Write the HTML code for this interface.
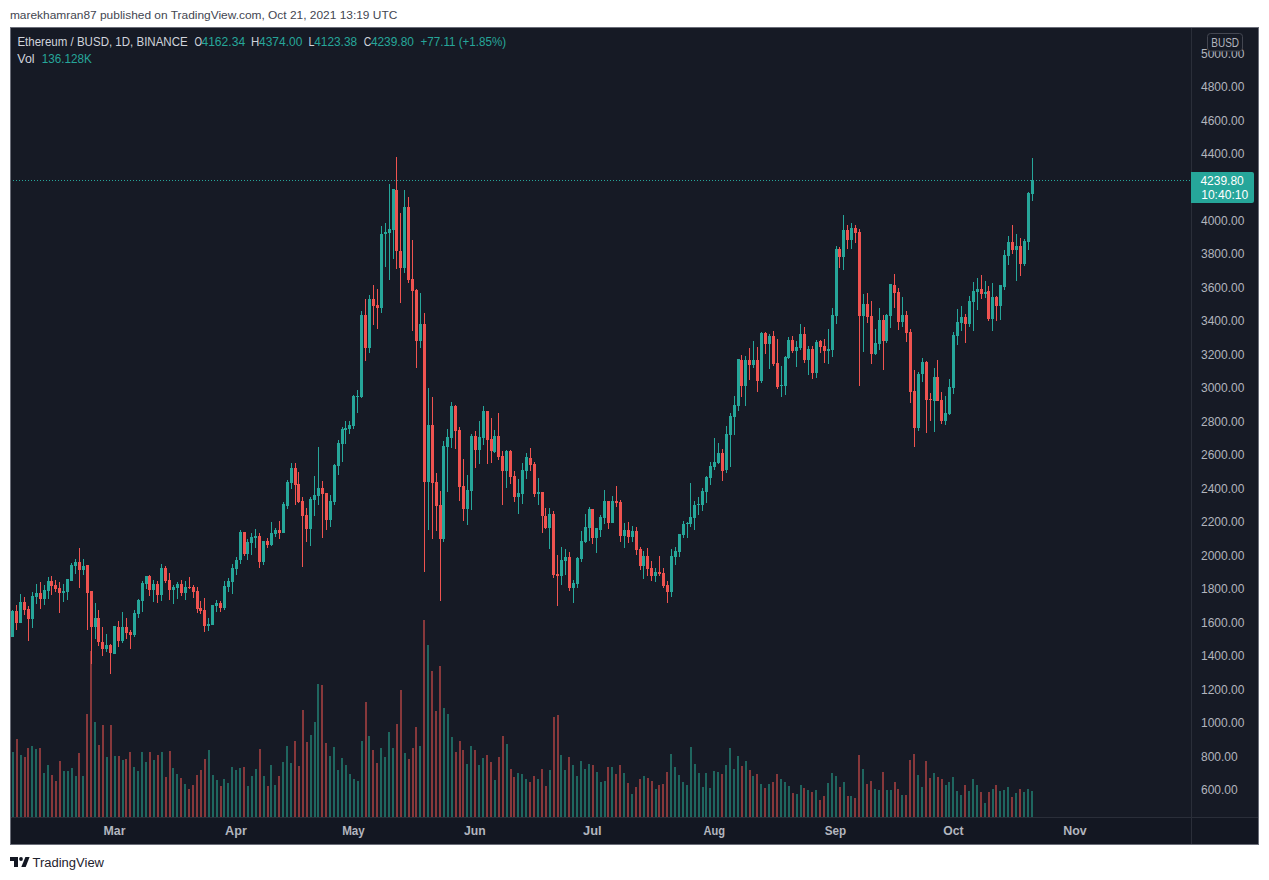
<!DOCTYPE html>
<html><head><meta charset="utf-8"><title>ETHBUSD chart</title>
<style>
html,body{margin:0;padding:0;background:#fff;}
body{width:1269px;height:880px;overflow:hidden;position:relative;font-family:"Liberation Sans",Arial,sans-serif;}
.panel{position:absolute;left:10px;top:27px;width:1247px;height:816px;background:#161a25;border:1px solid #6a6d78;}
.ch{position:absolute;left:0;top:0;}
</style></head><body>
<div class="panel"></div>
<svg class="ch" width="1269" height="880" viewBox="0 0 1269 880">
<g shape-rendering="crispEdges">
<rect x="11" y="818" width="1247" height="26" fill="#131722"/>
<path fill="#1f665f" d="M12 752h2v65h-2zM20 755h2v62h-2zM31 746h2v71h-2zM35 749h2v68h-2zM43 773h2v44h-2zM47 765h2v52h-2zM63 771h2v46h-2zM67 771h2v46h-2zM71 768h2v49h-2zM75 776h2v41h-2zM82 776h2v41h-2zM94 722h2v95h-2zM106 757h2v60h-2zM114 756h2v61h-2zM122 760h2v57h-2zM133 767h2v50h-2zM137 771h2v46h-2zM141 752h2v65h-2zM145 762h2v55h-2zM153 760h2v57h-2zM161 752h2v65h-2zM172 768h2v49h-2zM176 774h2v43h-2zM184 784h2v33h-2zM208 750h2v67h-2zM212 775h2v42h-2zM216 780h2v37h-2zM223 779h2v38h-2zM227 783h2v34h-2zM231 767h2v50h-2zM235 770h2v47h-2zM239 768h2v49h-2zM247 786h2v31h-2zM251 776h2v41h-2zM255 769h2v48h-2zM263 776h2v41h-2zM270 765h2v52h-2zM274 785h2v32h-2zM282 762h2v55h-2zM286 746h2v71h-2zM290 763h2v54h-2zM310 735h2v82h-2zM314 722h2v95h-2zM317 684h2v133h-2zM329 756h2v61h-2zM333 747h2v70h-2zM337 770h2v47h-2zM341 758h2v59h-2zM345 765h2v52h-2zM349 774h2v43h-2zM353 779h2v38h-2zM357 781h2v36h-2zM361 741h2v76h-2zM368 736h2v81h-2zM380 748h2v69h-2zM384 757h2v60h-2zM388 732h2v85h-2zM392 748h2v69h-2zM404 753h2v64h-2zM419 746h2v71h-2zM427 645h2v172h-2zM443 708h2v109h-2zM447 714h2v103h-2zM451 737h2v80h-2zM466 764h2v53h-2zM470 746h2v71h-2zM478 765h2v52h-2zM482 758h2v59h-2zM494 780h2v37h-2zM506 744h2v73h-2zM517 773h2v44h-2zM521 774h2v43h-2zM525 779h2v38h-2zM537 779h2v38h-2zM549 770h2v47h-2zM560 755h2v62h-2zM564 770h2v47h-2zM572 765h2v52h-2zM576 776h2v41h-2zM580 761h2v56h-2zM584 769h2v48h-2zM588 764h2v53h-2zM596 772h2v45h-2zM600 782h2v35h-2zM604 781h2v36h-2zM611 767h2v50h-2zM623 773h2v44h-2zM631 794h2v23h-2zM643 776h2v41h-2zM655 789h2v28h-2zM670 754h2v63h-2zM674 767h2v50h-2zM678 775h2v42h-2zM682 782h2v35h-2zM686 785h2v32h-2zM690 747h2v70h-2zM694 764h2v53h-2zM698 773h2v44h-2zM702 787h2v30h-2zM705 773h2v44h-2zM709 788h2v29h-2zM713 771h2v46h-2zM717 772h2v45h-2zM725 765h2v52h-2zM729 748h2v69h-2zM733 769h2v48h-2zM737 756h2v61h-2zM745 761h2v56h-2zM752 776h2v41h-2zM760 784h2v33h-2zM768 784h2v33h-2zM780 779h2v38h-2zM784 782h2v35h-2zM788 786h2v31h-2zM796 794h2v23h-2zM800 785h2v32h-2zM807 790h2v27h-2zM815 790h2v27h-2zM827 783h2v34h-2zM831 773h2v44h-2zM835 776h2v41h-2zM843 782h2v35h-2zM850 796h2v21h-2zM862 769h2v48h-2zM874 789h2v28h-2zM878 790h2v27h-2zM886 790h2v27h-2zM890 790h2v27h-2zM901 795h2v22h-2zM917 775h2v42h-2zM921 787h2v30h-2zM933 773h2v44h-2zM945 785h2v32h-2zM948 782h2v35h-2zM952 777h2v40h-2zM956 791h2v26h-2zM960 795h2v22h-2zM968 791h2v26h-2zM972 779h2v38h-2zM976 785h2v32h-2zM984 803h2v14h-2zM992 789h2v28h-2zM999 791h2v26h-2zM1003 790h2v27h-2zM1007 787h2v30h-2zM1015 793h2v24h-2zM1023 792h2v25h-2zM1027 789h2v28h-2zM1031 791h2v26h-2z"/>
<path fill="#87383b" d="M16 739h2v78h-2zM24 757h2v60h-2zM27 748h2v69h-2zM39 748h2v69h-2zM51 775h2v42h-2zM55 781h2v36h-2zM59 761h2v56h-2zM78 753h2v64h-2zM86 714h2v103h-2zM90 651h2v166h-2zM98 745h2v72h-2zM102 725h2v92h-2zM110 725h2v92h-2zM118 756h2v61h-2zM125 759h2v58h-2zM129 752h2v65h-2zM149 752h2v65h-2zM157 755h2v62h-2zM165 777h2v40h-2zM169 751h2v66h-2zM180 778h2v39h-2zM188 789h2v28h-2zM192 785h2v32h-2zM196 775h2v42h-2zM200 770h2v47h-2zM204 759h2v58h-2zM220 786h2v31h-2zM243 767h2v50h-2zM259 749h2v68h-2zM267 786h2v31h-2zM278 776h2v41h-2zM294 741h2v76h-2zM298 766h2v51h-2zM302 710h2v107h-2zM306 742h2v75h-2zM321 685h2v132h-2zM325 743h2v74h-2zM365 702h2v115h-2zM372 750h2v67h-2zM376 763h2v54h-2zM396 724h2v93h-2zM400 690h2v127h-2zM408 759h2v58h-2zM412 748h2v69h-2zM415 727h2v90h-2zM423 620h2v197h-2zM431 671h2v146h-2zM435 711h2v106h-2zM439 666h2v151h-2zM455 752h2v65h-2zM459 741h2v76h-2zM462 750h2v67h-2zM474 750h2v67h-2zM486 755h2v62h-2zM490 762h2v55h-2zM498 757h2v60h-2zM502 736h2v81h-2zM510 769h2v48h-2zM513 777h2v40h-2zM529 782h2v35h-2zM533 776h2v41h-2zM541 769h2v48h-2zM545 786h2v31h-2zM553 717h2v100h-2zM557 715h2v102h-2zM568 757h2v60h-2zM592 765h2v52h-2zM607 767h2v50h-2zM615 774h2v43h-2zM619 765h2v52h-2zM627 783h2v34h-2zM635 787h2v30h-2zM639 779h2v38h-2zM647 778h2v39h-2zM651 781h2v36h-2zM658 785h2v32h-2zM662 784h2v33h-2zM666 772h2v45h-2zM721 774h2v43h-2zM741 766h2v51h-2zM749 770h2v47h-2zM756 774h2v43h-2zM764 788h2v29h-2zM772 782h2v35h-2zM776 774h2v43h-2zM792 793h2v24h-2zM803 788h2v29h-2zM811 792h2v25h-2zM819 800h2v17h-2zM823 796h2v21h-2zM839 787h2v30h-2zM847 796h2v21h-2zM854 798h2v19h-2zM858 755h2v62h-2zM866 784h2v33h-2zM870 781h2v36h-2zM882 772h2v45h-2zM894 782h2v35h-2zM897 789h2v28h-2zM905 795h2v22h-2zM909 760h2v57h-2zM913 754h2v63h-2zM925 761h2v56h-2zM929 778h2v39h-2zM937 777h2v40h-2zM941 779h2v38h-2zM964 785h2v32h-2zM980 792h2v25h-2zM988 792h2v25h-2zM995 785h2v32h-2zM1011 797h2v20h-2zM1019 789h2v28h-2z"/>
<path fill="#26a69a" d="M11 611h3v26h-3zM12 610h1v1h-1zM19 602h3v21h-3zM20 594h1v8h-1zM31 596h3v23h-3zM32 592h1v4h-1zM32 619h1v9h-1zM35 593h3v4h-3zM36 584h1v9h-1zM36 597h1v7h-1zM43 590h3v9h-3zM44 585h1v5h-1zM44 599h1v6h-1zM47 581h3v10h-3zM48 577h1v4h-1zM48 591h1v8h-1zM62 591h3v2h-3zM63 584h1v7h-1zM63 593h1v9h-1zM66 579h3v13h-3zM67 592h1v8h-1zM70 565h3v16h-3zM71 563h1v2h-1zM74 562h3v4h-3zM75 559h1v3h-1zM75 566h1v8h-1zM82 566h3v4h-3zM83 559h1v7h-1zM83 570h1v5h-1zM94 618h3v9h-3zM95 603h1v15h-1zM95 627h1v12h-1zM105 645h3v4h-3zM106 634h1v11h-1zM106 649h1v3h-1zM113 626h3v28h-3zM121 627h3v14h-3zM122 612h1v15h-1zM122 641h1v2h-1zM133 613h3v22h-3zM134 610h1v3h-1zM134 635h1v2h-1zM137 600h3v14h-3zM138 599h1v1h-1zM138 614h1v4h-1zM141 583h3v18h-3zM142 581h1v2h-1zM142 601h1v11h-1zM145 576h3v8h-3zM146 584h1v5h-1zM152 584h3v6h-3zM153 580h1v4h-1zM153 590h1v12h-1zM160 568h3v27h-3zM161 564h1v4h-1zM161 595h1v6h-1zM172 587h3v3h-3zM173 585h1v2h-1zM173 590h1v14h-1zM176 584h3v4h-3zM177 582h1v2h-1zM177 588h1v11h-1zM184 587h3v6h-3zM185 581h1v6h-1zM185 593h1v7h-1zM207 624h3v2h-3zM208 618h1v6h-1zM208 626h1v5h-1zM211 605h3v20h-3zM215 603h3v3h-3zM216 600h1v3h-1zM216 606h1v6h-1zM223 586h3v22h-3zM224 581h1v5h-1zM224 608h1v2h-1zM227 581h3v6h-3zM228 578h1v3h-1zM228 587h1v5h-1zM231 568h3v14h-3zM232 564h1v4h-1zM232 582h1v12h-1zM235 560h3v9h-3zM236 557h1v3h-1zM236 569h1v6h-1zM239 532h3v28h-3zM240 530h1v2h-1zM240 560h1v4h-1zM246 542h3v12h-3zM247 539h1v3h-1zM247 554h1v6h-1zM250 537h3v6h-3zM251 533h1v4h-1zM251 543h1v12h-1zM254 536h3v2h-3zM255 529h1v7h-1zM255 538h1v10h-1zM262 541h3v21h-3zM263 562h1v3h-1zM270 533h3v12h-3zM271 522h1v11h-1zM271 545h1v1h-1zM274 530h3v4h-3zM275 528h1v2h-1zM275 534h1v3h-1zM282 504h3v29h-3zM283 502h1v2h-1zM286 482h3v24h-3zM287 480h1v2h-1zM287 506h1v3h-1zM290 468h3v15h-3zM291 463h1v5h-1zM291 483h1v6h-1zM309 499h3v30h-3zM310 497h1v2h-1zM310 529h1v17h-1zM313 495h3v5h-3zM314 476h1v19h-1zM314 500h1v16h-1zM317 488h3v8h-3zM318 447h1v41h-1zM318 496h1v9h-1zM329 501h3v19h-3zM330 495h1v6h-1zM330 520h1v7h-1zM333 465h3v37h-3zM334 464h1v1h-1zM334 502h1v3h-1zM337 443h3v23h-3zM338 440h1v3h-1zM338 466h1v9h-1zM341 429h3v15h-3zM342 427h1v2h-1zM342 444h1v18h-1zM344 428h3v2h-3zM345 421h1v7h-1zM345 430h1v14h-1zM348 425h3v4h-3zM349 421h1v4h-1zM349 429h1v5h-1zM352 396h3v30h-3zM353 395h1v1h-1zM353 426h1v3h-1zM356 396h3v1h-3zM357 390h1v6h-1zM357 397h1v16h-1zM360 315h3v82h-3zM361 311h1v4h-1zM361 397h1v1h-1zM368 299h3v49h-3zM369 295h1v4h-1zM369 348h1v5h-1zM380 234h3v74h-3zM381 226h1v8h-1zM381 308h1v5h-1zM384 232h3v2h-3zM385 223h1v9h-1zM385 234h1v33h-1zM388 229h3v4h-3zM389 184h1v45h-1zM389 233h1v47h-1zM392 189h3v41h-3zM393 230h1v29h-1zM403 207h3v61h-3zM404 190h1v17h-1zM404 268h1v5h-1zM419 324h3v17h-3zM420 293h1v31h-1zM420 341h1v7h-1zM427 425h3v57h-3zM428 388h1v37h-1zM428 482h1v48h-1zM442 446h3v93h-3zM443 441h1v5h-1zM443 539h1v3h-1zM446 437h3v10h-3zM447 429h1v8h-1zM447 447h1v45h-1zM450 406h3v32h-3zM451 402h1v4h-1zM451 438h1v10h-1zM466 490h3v19h-3zM467 475h1v15h-1zM467 509h1v16h-1zM470 436h3v55h-3zM471 434h1v2h-1zM471 491h1v19h-1zM478 437h3v13h-3zM479 421h1v16h-1zM479 450h1v14h-1zM482 411h3v27h-3zM483 406h1v5h-1zM483 438h1v7h-1zM493 436h3v16h-3zM494 430h1v6h-1zM494 452h1v1h-1zM505 451h3v20h-3zM506 450h1v1h-1zM506 471h1v17h-1zM517 493h3v4h-3zM518 479h1v14h-1zM518 497h1v17h-1zM521 470h3v24h-3zM522 463h1v7h-1zM522 494h1v10h-1zM525 457h3v14h-3zM526 453h1v4h-1zM526 471h1v8h-1zM537 492h3v2h-3zM538 478h1v14h-1zM538 494h1v11h-1zM548 514h3v14h-3zM549 508h1v6h-1zM549 528h1v21h-1zM560 560h3v16h-3zM561 547h1v13h-1zM561 576h1v9h-1zM564 557h3v4h-3zM565 549h1v8h-1zM565 561h1v14h-1zM572 583h3v5h-3zM573 580h1v3h-1zM573 588h1v15h-1zM576 558h3v26h-3zM577 557h1v1h-1zM577 584h1v4h-1zM580 541h3v18h-3zM581 531h1v10h-1zM581 559h1v3h-1zM584 527h3v15h-3zM585 514h1v13h-1zM585 542h1v1h-1zM588 509h3v19h-3zM589 507h1v2h-1zM589 528h1v13h-1zM595 528h3v10h-3zM596 538h1v15h-1zM599 517h3v13h-3zM600 515h1v2h-1zM600 530h1v7h-1zM603 501h3v17h-3zM604 490h1v11h-1zM604 518h1v6h-1zM611 501h3v22h-3zM612 496h1v5h-1zM623 530h3v6h-3zM624 523h1v7h-1zM624 536h1v12h-1zM631 531h3v6h-3zM632 526h1v5h-1zM632 537h1v5h-1zM642 556h3v10h-3zM643 551h1v5h-1zM643 566h1v13h-1zM654 572h3v4h-3zM655 568h1v4h-1zM655 576h1v6h-1zM670 556h3v36h-3zM671 549h1v7h-1zM671 592h1v5h-1zM674 551h3v6h-3zM675 547h1v4h-1zM675 557h1v8h-1zM678 534h3v18h-3zM679 552h1v5h-1zM682 524h3v11h-3zM683 521h1v3h-1zM683 535h1v3h-1zM686 523h3v1h-3zM687 522h1v1h-1zM687 524h1v14h-1zM689 517h3v7h-3zM690 483h1v34h-1zM690 524h1v3h-1zM693 505h3v13h-3zM694 501h1v4h-1zM694 518h1v12h-1zM697 504h3v1h-3zM698 497h1v7h-1zM698 505h1v10h-1zM701 491h3v14h-3zM702 488h1v3h-1zM702 505h1v6h-1zM705 477h3v15h-3zM706 476h1v1h-1zM706 492h1v11h-1zM709 466h3v12h-3zM710 462h1v4h-1zM710 478h1v7h-1zM713 462h3v5h-3zM714 438h1v24h-1zM714 467h1v3h-1zM717 453h3v10h-3zM718 443h1v10h-1zM718 463h1v1h-1zM725 434h3v36h-3zM726 426h1v8h-1zM726 470h1v3h-1zM729 416h3v19h-3zM730 413h1v3h-1zM730 435h1v32h-1zM733 405h3v12h-3zM734 396h1v9h-1zM734 417h1v18h-1zM737 359h3v47h-3zM738 406h1v5h-1zM744 360h3v26h-3zM745 356h1v4h-1zM745 386h1v20h-1zM752 360h3v5h-3zM753 341h1v19h-1zM753 365h1v3h-1zM760 333h3v48h-3zM761 332h1v1h-1zM761 381h1v2h-1zM768 336h3v8h-3zM769 334h1v2h-1zM769 344h1v25h-1zM780 385h3v1h-3zM781 366h1v19h-1zM781 386h1v11h-1zM784 357h3v29h-3zM785 356h1v1h-1zM785 386h1v9h-1zM787 340h3v18h-3zM788 337h1v3h-1zM788 358h1v1h-1zM795 347h3v4h-3zM796 341h1v6h-1zM796 351h1v16h-1zM799 334h3v14h-3zM800 324h1v10h-1zM800 348h1v2h-1zM807 349h3v11h-3zM808 346h1v3h-1zM808 360h1v15h-1zM815 342h3v31h-3zM816 340h1v2h-1zM816 373h1v5h-1zM827 349h3v2h-3zM828 329h1v20h-1zM828 351h1v13h-1zM831 315h3v35h-3zM832 308h1v7h-1zM832 350h1v7h-1zM835 249h3v67h-3zM836 246h1v3h-1zM836 316h1v8h-1zM842 230h3v27h-3zM843 215h1v15h-1zM843 257h1v13h-1zM850 228h3v12h-3zM851 223h1v5h-1zM851 240h1v9h-1zM862 304h3v12h-3zM863 294h1v10h-1zM863 316h1v36h-1zM874 343h3v11h-3zM875 329h1v14h-1zM875 354h1v1h-1zM878 320h3v24h-3zM879 308h1v12h-1zM879 344h1v6h-1zM885 315h3v26h-3zM886 314h1v1h-1zM886 341h1v2h-1zM889 284h3v32h-3zM890 316h1v12h-1zM901 315h3v7h-3zM902 297h1v18h-1zM902 322h1v5h-1zM917 374h3v54h-3zM918 372h1v2h-1zM918 428h1v3h-1zM921 362h3v12h-3zM922 358h1v4h-1zM922 374h1v8h-1zM933 377h3v24h-3zM934 368h1v9h-1zM934 401h1v31h-1zM944 413h3v8h-3zM945 396h1v17h-1zM945 421h1v4h-1zM948 387h3v27h-3zM949 379h1v8h-1zM949 414h1v1h-1zM952 335h3v53h-3zM953 332h1v3h-1zM953 388h1v6h-1zM956 322h3v14h-3zM957 309h1v13h-1zM957 336h1v9h-1zM960 317h3v6h-3zM961 306h1v11h-1zM961 323h1v8h-1zM968 301h3v23h-3zM969 296h1v5h-1zM969 324h1v3h-1zM972 291h3v11h-3zM973 282h1v9h-1zM973 302h1v29h-1zM976 289h3v3h-3zM977 278h1v11h-1zM977 292h1v18h-1zM984 292h3v2h-3zM985 281h1v11h-1zM985 294h1v4h-1zM991 297h3v22h-3zM992 283h1v14h-1zM992 319h1v12h-1zM999 285h3v21h-3zM1000 306h1v14h-1zM1003 255h3v32h-3zM1004 250h1v5h-1zM1004 287h1v3h-1zM1007 242h3v14h-3zM1008 236h1v6h-1zM1008 256h1v9h-1zM1015 246h3v4h-3zM1016 234h1v12h-1zM1016 250h1v31h-1zM1023 241h3v23h-3zM1024 239h1v2h-1zM1024 264h1v2h-1zM1027 193h3v49h-3zM1028 192h1v1h-1zM1028 242h1v8h-1zM1031 180h3v14h-3zM1032 158h1v22h-1zM1032 194h1v7h-1z"/>
<path fill="#ef5350" d="M15 611h3v12h-3zM16 605h1v6h-1zM16 623h1v7h-1zM23 602h3v8h-3zM24 597h1v5h-1zM24 610h1v5h-1zM27 609h3v10h-3zM28 606h1v3h-1zM28 619h1v22h-1zM39 593h3v6h-3zM40 582h1v11h-1zM40 599h1v10h-1zM50 581h3v5h-3zM51 576h1v5h-1zM51 586h1v9h-1zM54 585h3v4h-3zM55 580h1v5h-1zM55 589h1v3h-1zM58 588h3v5h-3zM59 582h1v6h-1zM59 593h1v20h-1zM78 562h3v8h-3zM79 548h1v14h-1zM79 570h1v18h-1zM86 565h3v28h-3zM87 593h1v37h-1zM90 591h3v36h-3zM91 627h1v37h-1zM97 618h3v24h-3zM98 610h1v8h-1zM98 642h1v4h-1zM101 642h3v7h-3zM102 627h1v15h-1zM102 649h1v7h-1zM109 645h3v8h-3zM110 644h1v1h-1zM110 653h1v21h-1zM117 627h3v14h-3zM118 621h1v6h-1zM118 641h1v6h-1zM125 627h3v6h-3zM126 618h1v9h-1zM126 633h1v6h-1zM129 632h3v3h-3zM130 630h1v2h-1zM130 635h1v14h-1zM148 576h3v14h-3zM149 575h1v1h-1zM149 590h1v6h-1zM156 584h3v11h-3zM157 581h1v3h-1zM157 595h1v8h-1zM164 568h3v13h-3zM165 566h1v2h-1zM165 581h1v2h-1zM168 580h3v10h-3zM169 573h1v7h-1zM169 590h1v10h-1zM180 584h3v9h-3zM181 580h1v4h-1zM181 593h1v3h-1zM188 587h3v1h-3zM189 577h1v10h-1zM189 588h1v1h-1zM192 587h3v5h-3zM193 585h1v2h-1zM193 592h1v6h-1zM196 591h3v18h-3zM197 587h1v4h-1zM197 609h1v4h-1zM199 608h3v3h-3zM200 601h1v7h-1zM200 611h1v3h-1zM203 610h3v16h-3zM204 598h1v12h-1zM204 626h1v6h-1zM219 603h3v5h-3zM220 601h1v2h-1zM220 608h1v4h-1zM243 532h3v22h-3zM244 554h1v2h-1zM258 536h3v26h-3zM259 533h1v3h-1zM259 562h1v6h-1zM266 541h3v4h-3zM267 538h1v3h-1zM267 545h1v3h-1zM278 530h3v3h-3zM279 521h1v9h-1zM279 533h1v6h-1zM294 468h3v17h-3zM295 463h1v5h-1zM295 485h1v20h-1zM297 484h3v18h-3zM298 472h1v12h-1zM298 502h1v1h-1zM301 501h3v15h-3zM302 497h1v4h-1zM302 516h1v51h-1zM305 515h3v14h-3zM306 508h1v7h-1zM306 529h1v13h-1zM321 488h3v6h-3zM322 481h1v7h-1zM322 494h1v44h-1zM325 493h3v27h-3zM326 520h1v10h-1zM364 315h3v33h-3zM365 299h1v16h-1zM365 348h1v13h-1zM372 299h3v7h-3zM373 285h1v14h-1zM373 306h1v19h-1zM376 305h3v3h-3zM377 289h1v16h-1zM377 308h1v21h-1zM395 190h3v61h-3zM396 157h1v33h-1zM396 251h1v18h-1zM399 251h3v17h-3zM400 213h1v38h-1zM400 268h1v35h-1zM407 207h3v73h-3zM408 197h1v10h-1zM408 280h1v3h-1zM411 279h3v12h-3zM412 240h1v39h-1zM412 291h1v40h-1zM415 290h3v51h-3zM416 289h1v1h-1zM416 341h1v27h-1zM423 324h3v158h-3zM424 313h1v11h-1zM424 482h1v90h-1zM431 425h3v58h-3zM432 397h1v28h-1zM432 483h1v56h-1zM435 482h3v24h-3zM436 473h1v9h-1zM436 506h1v25h-1zM439 505h3v34h-3zM440 491h1v14h-1zM440 539h1v62h-1zM454 406h3v25h-3zM455 405h1v1h-1zM455 431h1v18h-1zM458 430h3v57h-3zM459 427h1v3h-1zM459 487h1v14h-1zM462 486h3v23h-3zM463 459h1v27h-1zM463 509h1v12h-1zM474 436h3v14h-3zM475 431h1v5h-1zM475 450h1v18h-1zM486 411h3v29h-3zM487 440h1v24h-1zM490 439h3v12h-3zM491 418h1v21h-1zM491 451h1v12h-1zM497 436h3v21h-3zM498 413h1v23h-1zM498 457h1v3h-1zM501 456h3v15h-3zM502 451h1v5h-1zM502 471h1v34h-1zM509 451h3v26h-3zM510 450h1v1h-1zM510 477h1v7h-1zM513 476h3v21h-3zM514 471h1v5h-1zM514 497h1v5h-1zM529 458h3v7h-3zM530 448h1v10h-1zM530 465h1v6h-1zM533 464h3v30h-3zM534 462h1v2h-1zM534 494h1v3h-1zM541 492h3v24h-3zM542 516h1v17h-1zM544 516h3v12h-3zM545 508h1v8h-1zM545 528h1v1h-1zM552 514h3v61h-3zM553 511h1v3h-1zM553 575h1v3h-1zM556 574h3v2h-3zM557 555h1v19h-1zM557 576h1v30h-1zM568 557h3v31h-3zM569 552h1v5h-1zM569 588h1v3h-1zM591 509h3v29h-3zM592 538h1v6h-1zM607 501h3v22h-3zM608 523h1v6h-1zM615 501h3v2h-3zM616 486h1v15h-1zM616 503h1v4h-1zM619 502h3v34h-3zM620 500h1v2h-1zM620 536h1v6h-1zM627 530h3v7h-3zM628 522h1v8h-1zM628 537h1v6h-1zM635 531h3v19h-3zM636 527h1v4h-1zM636 550h1v5h-1zM639 549h3v17h-3zM640 547h1v2h-1zM640 566h1v4h-1zM646 556h3v13h-3zM647 548h1v8h-1zM647 569h1v7h-1zM650 568h3v8h-3zM651 561h1v7h-1zM651 576h1v5h-1zM658 572h3v2h-3zM659 556h1v16h-1zM659 574h1v2h-1zM662 573h3v13h-3zM663 568h1v5h-1zM663 586h1v2h-1zM666 585h3v7h-3zM667 581h1v4h-1zM667 592h1v11h-1zM721 453h3v18h-3zM722 449h1v4h-1zM722 471h1v10h-1zM740 360h3v26h-3zM741 355h1v5h-1zM741 386h1v11h-1zM748 360h3v5h-3zM749 348h1v12h-1zM749 365h1v15h-1zM756 360h3v21h-3zM757 347h1v13h-1zM757 381h1v11h-1zM764 333h3v11h-3zM765 332h1v1h-1zM765 344h1v10h-1zM772 336h3v28h-3zM773 331h1v5h-1zM773 364h1v2h-1zM776 363h3v24h-3zM777 339h1v24h-1zM777 387h1v2h-1zM791 340h3v11h-3zM792 336h1v4h-1zM792 351h1v2h-1zM803 334h3v26h-3zM804 327h1v7h-1zM804 360h1v3h-1zM811 349h3v24h-3zM812 346h1v3h-1zM812 373h1v6h-1zM819 341h3v6h-3zM820 340h1v1h-1zM820 347h1v6h-1zM823 346h3v5h-3zM824 339h1v7h-1zM824 351h1v12h-1zM838 249h3v8h-3zM839 247h1v2h-1zM839 257h1v11h-1zM846 230h3v10h-3zM847 225h1v5h-1zM847 240h1v9h-1zM854 228h3v5h-3zM855 225h1v3h-1zM855 233h1v10h-1zM858 232h3v84h-3zM859 229h1v3h-1zM859 316h1v70h-1zM866 304h3v13h-3zM867 293h1v11h-1zM867 317h1v6h-1zM870 316h3v38h-3zM871 301h1v15h-1zM871 354h1v10h-1zM882 320h3v21h-3zM883 315h1v5h-1zM883 341h1v29h-1zM893 285h3v8h-3zM894 274h1v11h-1zM894 293h1v15h-1zM897 292h3v30h-3zM898 288h1v4h-1zM898 322h1v8h-1zM905 315h3v18h-3zM906 311h1v4h-1zM906 333h1v9h-1zM909 332h3v60h-3zM910 329h1v3h-1zM910 392h1v11h-1zM913 391h3v37h-3zM914 370h1v21h-1zM914 428h1v19h-1zM925 362h3v38h-3zM926 361h1v1h-1zM926 400h1v33h-1zM929 399h3v1h-3zM930 393h1v6h-1zM930 400h1v21h-1zM936 377h3v24h-3zM937 360h1v17h-1zM940 400h3v21h-3zM941 392h1v8h-1zM941 421h1v3h-1zM964 317h3v7h-3zM965 314h1v3h-1zM965 324h1v19h-1zM980 289h3v5h-3zM981 275h1v14h-1zM981 294h1v5h-1zM987 291h3v28h-3zM988 286h1v5h-1zM988 319h1v2h-1zM995 297h3v9h-3zM996 296h1v1h-1zM996 306h1v15h-1zM1011 242h3v8h-3zM1012 225h1v17h-1zM1012 250h1v4h-1zM1019 246h3v18h-3zM1020 238h1v8h-1zM1020 264h1v12h-1z"/>
<rect x="1191" y="28" width="1" height="816" fill="#2a2e39"/>
<rect x="11" y="817" width="1247" height="1" fill="#2a2e39"/>
<line x1="13" y1="180.5" x2="1191" y2="180.5" stroke="#26a69a" stroke-width="1" stroke-dasharray="1 2"/>
</g>
<g font-family="Liberation Sans, Arial, sans-serif" font-size="12" fill="#b2b5be">
<text x="1201" y="57.5">5000.00</text><text x="1201" y="91.0">4800.00</text><text x="1201" y="124.5">4600.00</text><text x="1201" y="158.0">4400.00</text><text x="1201" y="224.9">4000.00</text><text x="1201" y="258.4">3800.00</text><text x="1201" y="291.9">3600.00</text><text x="1201" y="325.3">3400.00</text><text x="1201" y="358.8">3200.00</text><text x="1201" y="392.3">3000.00</text><text x="1201" y="425.8">2800.00</text><text x="1201" y="459.2">2600.00</text><text x="1201" y="492.7">2400.00</text><text x="1201" y="526.2">2200.00</text><text x="1201" y="559.7">2000.00</text><text x="1201" y="593.1">1800.00</text><text x="1201" y="626.6">1600.00</text><text x="1201" y="660.1">1400.00</text><text x="1201" y="693.6">1200.00</text><text x="1201" y="727.0">1000.00</text><text x="1201" y="760.5">800.00</text><text x="1201" y="794.0">600.00</text>
<text x="103.5" y="835" textLength="22.0" lengthAdjust="spacingAndGlyphs" fill="#b2b5be" font-size="12" font-weight="bold">Mar</text><text x="225.1" y="835" textLength="21.7" lengthAdjust="spacingAndGlyphs" fill="#b2b5be" font-size="12" font-weight="bold">Apr</text><text x="342.2" y="835" textLength="22.6" lengthAdjust="spacingAndGlyphs" fill="#b2b5be" font-size="12" font-weight="bold">May</text><text x="463.9" y="835" textLength="21.7" lengthAdjust="spacingAndGlyphs" fill="#b2b5be" font-size="12" font-weight="bold">Jun</text><text x="583.0" y="835" textLength="18.6" lengthAdjust="spacingAndGlyphs" fill="#b2b5be" font-size="12" font-weight="bold">Jul</text><text x="703.5" y="835" textLength="21.5" lengthAdjust="spacingAndGlyphs" fill="#b2b5be" font-size="12" font-weight="bold">Aug</text><text x="824.7" y="835" textLength="21.5" lengthAdjust="spacingAndGlyphs" fill="#b2b5be" font-size="12" font-weight="bold">Sep</text><text x="943.2" y="835" textLength="20.3" lengthAdjust="spacingAndGlyphs" fill="#b2b5be" font-size="12" font-weight="bold">Oct</text><text x="1063.2" y="835" textLength="23.4" lengthAdjust="spacingAndGlyphs" fill="#b2b5be" font-size="12" font-weight="bold">Nov</text>
</g>
<rect x="1191" y="172" width="63" height="31" rx="2" fill="#26a69a"/>
<rect x="1191" y="172" width="4" height="31" fill="#26a69a"/>
<g font-family="Liberation Sans, Arial, sans-serif" font-size="12" fill="#ffffff">
<text x="1200.4" y="185" textLength="43.4" lengthAdjust="spacingAndGlyphs" fill="#ffffff" font-size="12" >4239.80</text>
<text x="1201.2" y="199" textLength="47.0" lengthAdjust="spacingAndGlyphs" fill="#ffffff" font-size="12" >10:40:10</text>
</g>
<rect x="1207.5" y="33.5" width="35" height="17.5" rx="3" fill="#161a25" stroke="#434651" stroke-width="1"/>
<g font-family="Liberation Sans, Arial, sans-serif"><text x="1211.3" y="47" textLength="27.8" lengthAdjust="spacingAndGlyphs" fill="#b2b5be" font-size="12" >BUSD</text></g>
<g font-family="Liberation Sans, Arial, sans-serif" font-size="12">
<text x="17.4" y="46" textLength="170.3" lengthAdjust="spacingAndGlyphs" fill="#d1d4dc" font-size="12" >Ethereum / BUSD, 1D, BINANCE</text>
<text x="194.4" y="46" textLength="7.5" lengthAdjust="spacingAndGlyphs" fill="#d1d4dc" font-size="12" >O</text><text x="201.4" y="46" textLength="43.8" lengthAdjust="spacingAndGlyphs" fill="#26a69a" font-size="12" >4162.34</text>
<text x="251.1" y="46" textLength="8.3" lengthAdjust="spacingAndGlyphs" fill="#d1d4dc" font-size="12" >H</text><text x="259.0" y="46" textLength="43.3" lengthAdjust="spacingAndGlyphs" fill="#26a69a" font-size="12" >4374.00</text>
<text x="308.6" y="46" textLength="6.0" lengthAdjust="spacingAndGlyphs" fill="#d1d4dc" font-size="12" >L</text><text x="314.2" y="46" textLength="42.9" lengthAdjust="spacingAndGlyphs" fill="#26a69a" font-size="12" >4123.38</text>
<text x="363.8" y="46" textLength="7.5" lengthAdjust="spacingAndGlyphs" fill="#d1d4dc" font-size="12" >C</text><text x="370.9" y="46" textLength="43.0" lengthAdjust="spacingAndGlyphs" fill="#26a69a" font-size="12" >4239.80</text>
<text x="420.5" y="46" textLength="85.6" lengthAdjust="spacingAndGlyphs" fill="#26a69a" font-size="12" >+77.11 (+1.85%)</text>
<text x="17.3" y="63" textLength="17.3" lengthAdjust="spacingAndGlyphs" fill="#d1d4dc" font-size="12" >Vol</text><text x="41.7" y="63" textLength="50.1" lengthAdjust="spacingAndGlyphs" fill="#26a69a" font-size="12" >136.128K</text>
<text x="9.9" y="19" textLength="387.4" lengthAdjust="spacingAndGlyphs" fill="#434651" font-size="11.5" >marekhamran87 published on TradingView.com, Oct 21, 2021 13:19 UTC</text>
</g>
<g fill="#131722"><path d="M10 857h8v10h-4v-6h-4z"/><circle cx="21" cy="859" r="1.9"/><path d="M25.4 857h4.2l-3.9 10h-4.4z"/></g>
<g font-family="Liberation Sans, Arial, sans-serif"><text x="32.5" y="867" textLength="71.5" lengthAdjust="spacingAndGlyphs" fill="#1e222d" font-size="12.5" >TradingView</text></g>
</svg>
</body></html>
